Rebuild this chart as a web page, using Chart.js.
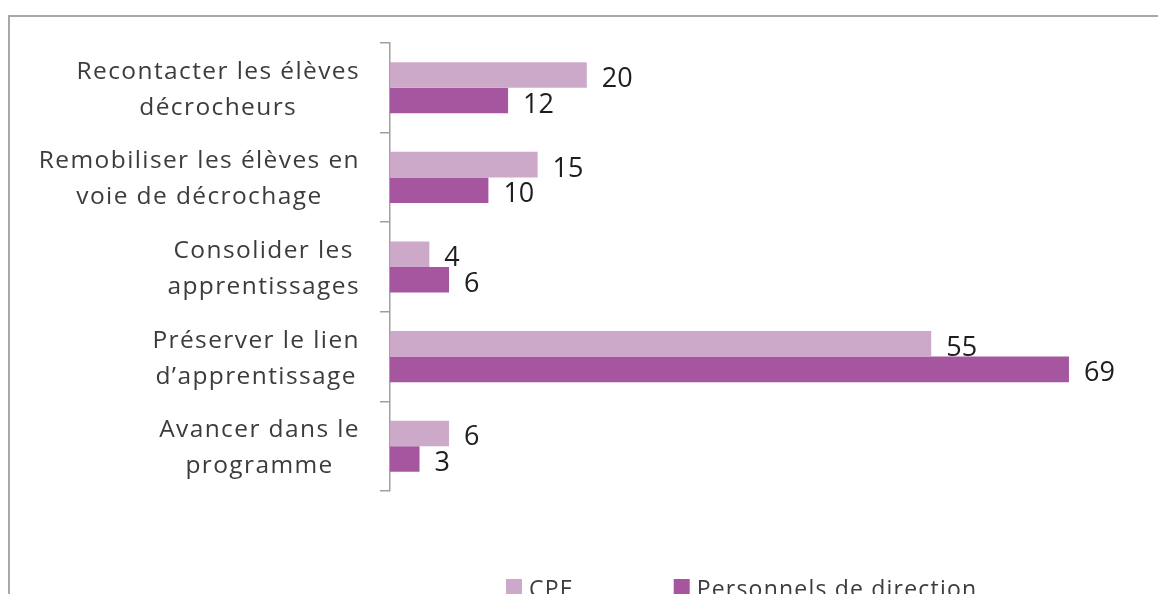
<!DOCTYPE html>
<html lang="fr">
<head>
<meta charset="utf-8">
<title>Actions prioritaires</title>
<script src="https://cdn.jsdelivr.net/npm/chart.js@4/dist/chart.umd.min.js"></script>
<style>
  html, body { margin: 0; padding: 0; background: #fff; }
  #wrap { position: relative; width: 1158px; height: 594px; overflow: hidden; }
  #frame {
    position: absolute; left: 8px; top: 15px; width: 1300px; height: 700px;
    border-top: 2px solid #a8a8a8; border-left: 2px solid #a8a8a8;
  }
  canvas { position: absolute; left: 0; top: 0; }
</style>
</head>
<body>
<div id="wrap">
  <div id="frame"></div>
  <canvas id="chart" width="1158" height="594"></canvas>
</div>
<script>
'use strict';

// ── Data ───────────────────────────────────────────────────
const categories = [
    ['Recontacter les élèves', 'décrocheurs'],
    ['Remobiliser les élèves en', 'voie de décrochage'],
    ['Consolider les', 'apprentissages'],
    ['Préserver le lien', 'd’apprentissage'],
    ['Avancer dans le', 'programme'],
];
const cpeValues = [20, 15, 4, 55, 6];
const directionValues = [12, 10, 6, 69, 3];
const seriesNames = ['CPE', 'Personnels de direction'];
const seriesColors = ['#cca9c9', '#a5569e'];

const FONT = "'Open Sans', Lato, sans-serif";

// ── Value labels at bar ends ───────────────────────────────
const barLabels = {
    id: 'barLabels',
    afterDatasetsDraw(chart) {
        const ctx = chart.ctx;
        ctx.save();
        ctx.font = `27px ${FONT}`;
        ctx.fillStyle = '#1e1e1e';
        ctx.textAlign = 'left';
        ctx.textBaseline = 'alphabetic';
        chart.data.datasets.forEach((ds, di) => {
            chart.getDatasetMeta(di).data.forEach((bar, i) => {
                ctx.fillText(String(ds.data[i]), bar.x + 15, bar.y + 12);
            });
        });
        ctx.restore();
    },
};

// ── Category labels (block right-aligned, lines centred) ──
const categoryLabels = {
    id: 'categoryLabels',
    afterDraw(chart) {
        const ctx = chart.ctx;
        const yScale = chart.scales.y;
        const right = chart.chartArea.left - 30;
        ctx.save();
        ctx.font = `24.5px ${FONT}`;
        ctx.letterSpacing = '1.4px';
        ctx.fillStyle = '#3c3c3c';
        ctx.textAlign = 'center';
        ctx.textBaseline = 'alphabetic';
        chart.data.labels.forEach((lines, i) => {
            const yc = yScale.getPixelForValue(i);
            const maxW = Math.max(...lines.map(l => ctx.measureText(l).width));
            const cx = right - maxW / 2;
            lines.forEach((l, k) => {
                ctx.fillText(l, cx, yc + (k - (lines.length - 1) / 2) * 36 + 9);
            });
        });
        ctx.restore();
    },
};

// ── Legend (bottom, wide gap between items) ────────────────
const bottomLegend = {
    id: 'bottomLegend',
    afterDraw(chart) {
        const ctx = chart.ctx;
        let x = 506;
        const top = 579;
        ctx.save();
        ctx.font = `23px ${FONT}`;
        ctx.letterSpacing = '1.2px';
        ctx.textAlign = 'left';
        ctx.textBaseline = 'alphabetic';
        chart.data.datasets.forEach(ds => {
            ctx.fillStyle = ds.backgroundColor;
            ctx.fillRect(x, top, 16, 16);
            ctx.fillStyle = '#3c3c3c';
            ctx.fillText(ds.label, x + 23, top + 18);
            x += 23 + ctx.measureText(ds.label).width + 100;
        });
        ctx.restore();
    },
};

// ── Chart ──────────────────────────────────────────────────
new Chart(document.getElementById('chart'), {
    type: 'bar',
    data: {
        labels: categories,
        datasets: [
            { label: seriesNames[0], data: cpeValues, backgroundColor: seriesColors[0] },
            { label: seriesNames[1], data: directionValues, backgroundColor: seriesColors[1] },
        ],
    },
    options: {
        indexAxis: 'y',
        responsive: false,
        animation: false,
        layout: { padding: { left: 380, top: 43, right: 30, bottom: 103 } },
        datasets: {
            bar: { categoryPercentage: 0.57, barPercentage: 1.0, borderWidth: 0 },
        },
        scales: {
            x: { display: false, min: 0, max: 75 },
            y: {
                ticks: { display: false },
                grid: {
                    drawOnChartArea: false,
                    drawTicks: true,
                    tickLength: 10,
                    color: '#a0a0a0',
                    lineWidth: 1.5,
                },
                border: { display: true, color: '#a0a0a0', width: 1.5 },
            },
        },
        plugins: {
            legend: { display: false },
            tooltip: { enabled: false },
        },
    },
    plugins: [barLabels, categoryLabels, bottomLegend],
});
</script>
</body>
</html>
